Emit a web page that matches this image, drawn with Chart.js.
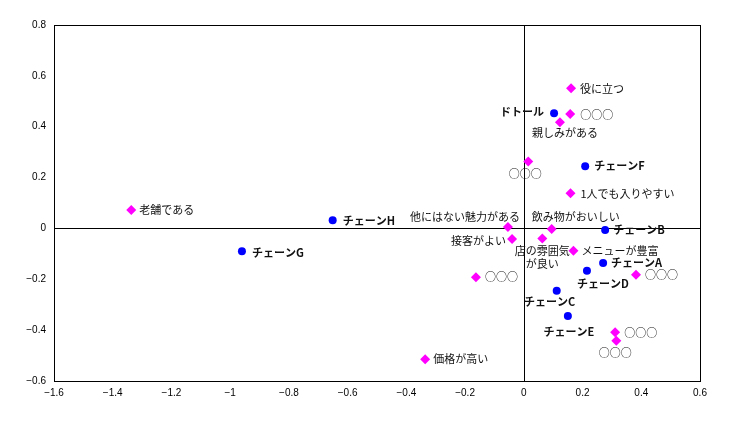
<!DOCTYPE html>
<html lang="ja">
<head>
<meta charset="UTF-8">
<title>ポジショニングマップ</title>
<script src="https://cdn.jsdelivr.net/npm/chart.js@4.4.1/dist/chart.umd.min.js"></script>
<style>
    body { margin: 0; background: #fff; }
    .chart-box { width: 756px; height: 441px; position: relative; }
</style>
</head>
<body>
<div class="chart-box"><canvas id="mapChart"></canvas></div>
<script>
// チェーン店（青）
const chainNames = ['ドトール', 'チェーンF', 'チェーンB', 'チェーンA', 'チェーンD', 'チェーンC', 'チェーンE', 'チェーンH', 'チェーンG'];
const chainX = [0.103, 0.209, 0.277, 0.270, 0.215, 0.112, 0.150, -0.651, -0.960];
const chainY = [0.453, 0.245, -0.006, -0.136, -0.166, -0.245, -0.344, 0.032, -0.090];

// イメージ項目（ピンク）
const attrNames = ['役に立つ', '○○○', '親しみがある', '○○○', '1人でも入りやすい', '他にはない魅力がある',
    '飲み物がおいしい', '接客がよい', '店の雰囲気\nが良い', 'メニューが豊富', '○○○', '○○○', '○○○', '○○○',
    '価格が高い', '老舗である'];
const attrX = [0.161, 0.158, 0.123, 0.015, 0.159, -0.054, 0.095, -0.040, 0.063, 0.169, 0.382, -0.163, 0.311, 0.315, -0.336, -1.337];
const attrY = [0.551, 0.450, 0.418, 0.263, 0.138, 0.006, -0.002, -0.042, -0.040, -0.088, -0.182, -0.192, -0.408, -0.442, -0.514, 0.072];

// ラベルの置き方 [dx, dy, align]
const chainLabelPos = [[-10, -1, 'right'], [9, 0, 'left'], [8, 0, 'left'], [8, 0, 'left'], [16, 13, 'center'],
    [-7, 11, 'center'], [1, 16, 'center'], [10, 1, 'left'], [10, 1, 'left']];
const attrLabelPos = [[9, 0, 'left'], [10, 1, 'left'], [5, 11, 'center'], [-3, 12, 'center'], [10, 0, 'left'],
    [12, -10, 'right'], [-20, -12, 'left'], [-6, 2, 'right'], [0, 12, 'center'], [8, 0, 'left'], [9, 0, 'left'],
    [9, 0, 'left'], [9, 1, 'left'], [-1, 12, 'center'], [8, 0, 'left'], [8, 0, 'left']];

const toPoints = (xs, ys) => xs.map((x, i) => ({ x: x, y: ys[i] }));

// 枠と原点の線
const framePlugin = {
    id: 'frame',
    beforeDatasetsDraw(chart) {
        const { ctx, chartArea: a, scales } = chart;
        const x0 = Math.round(scales.x.getPixelForValue(0)) + 0.5;
        const y0 = Math.round(scales.y.getPixelForValue(0)) + 0.5;
        ctx.save();
        ctx.strokeStyle = '#000';
        ctx.lineWidth = 1;
        ctx.strokeRect(Math.round(a.left) + 0.5, Math.round(a.top) + 0.5, Math.round(a.width), Math.round(a.height));
        ctx.beginPath();
        ctx.moveTo(x0, a.top); ctx.lineTo(x0, a.bottom);
        ctx.moveTo(a.left, y0); ctx.lineTo(a.right, y0);
        ctx.stroke();
        ctx.restore();
    }
};

// 点の横に名前を書く
const labelPlugin = {
    id: 'pointLabels',
    afterDatasetsDraw(chart) {
        const ctx = chart.ctx;
        const sets = [
            { names: chainNames, pos: chainLabelPos, font: 'bold 11px "Noto Sans CJK JP", sans-serif' },
            { names: attrNames, pos: attrLabelPos, font: '11px "Noto Sans CJK JP", sans-serif' }
        ];
        ctx.save();
        ctx.fillStyle = '#111';
        ctx.textBaseline = 'middle';
        sets.forEach((s, di) => {
            const meta = chart.getDatasetMeta(di);
            ctx.font = s.font;
            meta.data.forEach((pt, i) => {
                const [dx, dy, align] = s.pos[i];
                ctx.textAlign = align;
                s.names[i].split('\n').forEach((line, li) => {
                    ctx.fillText(line, pt.x + dx, pt.y + dy + li * 13);
                });
            });
        });
        ctx.restore();
    }
};

const fmt = v => String(Math.round(v * 10) / 10).replace('-', '−');

new Chart(document.getElementById('mapChart'), {
    type: 'scatter',
    data: {
        datasets: [
            {
                label: 'チェーン',
                data: toPoints(chainX, chainY),
                pointStyle: 'circle',
                pointRadius: 4,
                backgroundColor: '#0000FF',
                borderColor: '#0000FF',
                borderWidth: 0
            },
            {
                label: 'イメージ',
                data: toPoints(attrX, attrY),
                pointStyle: 'rectRot',
                pointRadius: 5,
                backgroundColor: '#FF00FF',
                borderColor: '#FF00FF',
                borderWidth: 0
            }
        ]
    },
    options: {
        responsive: true,
        maintainAspectRatio: false,
        animation: false,
        layout: { padding: { left: 0, right: 56, top: 25, bottom: 0 } },
        plugins: {
            legend: { display: false },
            tooltip: { enabled: false }
        },
        scales: {
            x: {
                type: 'linear',
                min: -1.6,
                max: 0.6,
                grid: { display: false, drawTicks: false },
                border: { display: false },
                ticks: {
                    stepSize: 0.2,
                    padding: 6,
                    color: '#000',
                    font: { family: '"Liberation Sans", Arial, sans-serif', size: 10 },
                    callback: fmt
                },
                afterFit(scale) { scale.height = 60; }
            },
            y: {
                type: 'linear',
                min: -0.6,
                max: 0.8,
                grid: { display: false, drawTicks: false },
                border: { display: false },
                ticks: {
                    stepSize: 0.2,
                    padding: 8,
                    color: '#000',
                    font: { family: '"Liberation Sans", Arial, sans-serif', size: 10 },
                    callback: fmt
                },
                afterFit(scale) { scale.width = 54; }
            }
        }
    },
    plugins: [framePlugin, labelPlugin]
});
</script>
</body>
</html>
